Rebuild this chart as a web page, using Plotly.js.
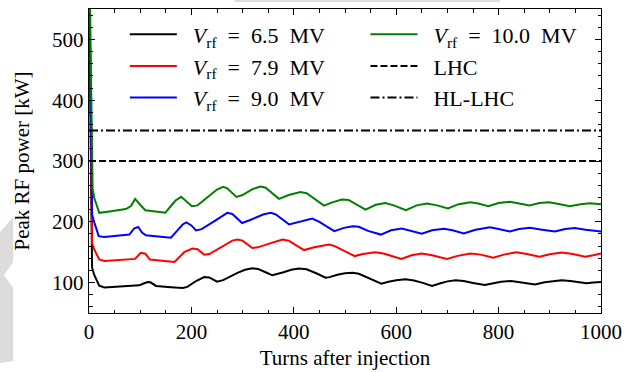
<!DOCTYPE html>
<html>
<head>
<meta charset="utf-8">
<script src="https://cdn.plot.ly/plotly-3.0.1.min.js"></script>
<style>html,body{margin:0;padding:0;background:#fff;}#chart{width:635px;height:372px;}</style>
</head>
<body>
<div id="chart"></div>
<script>
// ---- data ----
const SP = '\u2002';
const seriesNames = ['<i>V</i><sub>rf</sub>' + SP + '=' + SP + '6.5' + SP + 'MV',
                     '<i>V</i><sub>rf</sub>' + SP + '=' + SP + '7.9' + SP + 'MV',
                     '<i>V</i><sub>rf</sub>' + SP + '=' + SP + '9.0' + SP + 'MV',
                     '<i>V</i><sub>rf</sub>' + SP + '=' + SP + '10.0' + SP + 'MV'];
const seriesColors = ['#000000', '#ff0000', '#0000ff', '#008000'];

const turns65 = [0,6,10,20,30,50,80,98,108,115,120,131,160,183,192,210,225,235,250,262,290,305,319,330,345,358,380,395,410,425,445,462,470,485,500,515,527,550,571,585,600,618,635,650,670,685,700,716,732,750,773,790,805,825,845,871,890,905,923,940,955,972,985,1000];
const power65 = [600,125,113,95,92,93,94.5,95.5,99,101,100.5,94.5,92.5,91,93,103,109,108.5,101.5,104,116,121,123.4,122.5,117,112,117,121,123,122,115,108,109,113,115.5,116,114.5,106,98.3,101.5,104,105.4,103.5,100,94.5,98.5,102,103.8,102.5,99.5,96,99,101.5,102.6,100.5,97,100.5,102.5,103.8,102.5,100.5,99,100,101];

const turns79 = [0,6,10,20,30,60,90,101,110,119,140,167,186,202,212,225,235,260,280,290,300,319,330,355,378,390,420,440,460,469,480,519,535,559,575,610,630,650,670,699,720,745,765,790,810,835,855,880,900,923,945,969,985,1000];
const power79 = [620,165,155,138,135.5,137.5,139,149,147.5,138,136,133.8,150,156,155,146,147,160,169,171,169,157,158,165,171,169,153.5,158,162,162.8,160,143.6,147,150,148,139,145,148,145,139,144,148,146,141,146,150,147,142.6,146.5,149.6,147,142.6,145,148];

const turns90 = [0,6,10,19,30,60,79,88,96,104,111,140,160,175,183,190,200,209,220,245,260,270,280,299,315,340,355,365,391,410,436,450,479,498,515,527,545,570,590,611,630,650,670,693,710,732,755,783,800,822,840,861,885,910,930,949,970,1000];
const power90 = [640,212,200,176.4,175,178,179,189,191.5,182,178,175.5,173.8,188,195.6,199,194,185.7,188,201,210,214.7,213,198,203,212,214.7,212,195.6,200,205.4,200,184.6,190,192.5,191.8,185,179,186,189,185,180.3,186,188.5,186,181,187,191,188,184,188,190,187,184,188,189.6,187,184];

const turns100 = [0,7,10,20,40,72,82,90,100,110,130,149,160,169,180,190,201,212,230,250,262,270,288,300,320,335,345,371,390,413,425,459,475,494,507,540,560,579,595,619,640,660,680,701,722,745,760,780,800,822,840,860,880,899,920,939,960,978,1000];
const power100 = [680,255,240,214.8,217,221,226,237.7,228,219,217,214.8,226,235,241,233,225.6,227,240,253,257.4,255,241,244,254,258,256,237.7,244,249,247,226.7,232,236.5,236,220,228,231,227,219,227,230,227,221.8,229,232,230,225.6,231,232.8,230,226.7,231,232,229,225.6,229,230.5,229];

const limitNames = ['LHC', 'HL-LHC'];
const limitValues = [300, 350];
const limitTurns = [0, 1000];

const xTickVals = [0, 200, 400, 600, 800, 1000];
const yTickVals = [100, 200, 300, 400, 500];

// ---- traces ----
const GAP = '\u2002';
const turnSets = [turns65, turns79, turns90, turns100];
const powerSets = [power65, power79, power90, power100];
const traces = [];
for (let i = 0; i < 4; i++) {
  traces.push({
    x: turnSets[i], y: powerSets[i], type: 'scatter', mode: 'lines',
    name: GAP + seriesNames[i], line: {color: seriesColors[i], width: 2},
    legend: i < 3 ? 'legend' : 'legend2', legendgroup: 'g' + i,
    hoverinfo: 'skip'
  });
}
const limitDash = ['7px,3px', '9px,3px,2px,3px'];
for (let j = 0; j < 2; j++) {
  traces.push({
    x: limitTurns, y: [limitValues[j], limitValues[j]], type: 'scatter', mode: 'lines',
    name: GAP + limitNames[j], line: {color: '#000000', width: 2, dash: limitDash[j]},
    legend: 'legend2', legendgroup: 'h' + j, hoverinfo: 'skip'
  });
}

const FONT = "'Liberation Serif', 'DejaVu Serif', serif";
const axisCommon = {
  showline: true, linecolor: '#000', linewidth: 1.2, mirror: 'allticks',
  ticks: 'inside', ticklen: 6, tickwidth: 1, tickcolor: '#000',
  showgrid: false, zeroline: false,
  tickfont: {family: FONT, size: 21, color: '#000'}
};

const legendCommon = {
  bgcolor: 'rgba(0,0,0,0)', borderwidth: 0,
  font: {family: FONT, size: 22, color: '#000'},
  xanchor: 'left', yanchor: 'top', tracegroupgap: 0, itemwidth: 47
};

const layout = {
  width: 635, height: 372,
  margin: {l: 89, r: 34, t: 9, b: 59},
  paper_bgcolor: '#fff', plot_bgcolor: '#fff',
  showlegend: true,
  xaxis: Object.assign({}, axisCommon, {
    range: [0, 1000], tickvals: xTickVals,
    minor: {dtick: 50, tick0: 0, ticks: 'inside', ticklen: 3.5, tickwidth: 1, tickcolor: '#000'},
    title: {text: 'Turns after injection', font: {family: FONT, size: 21, color: '#000'}, standoff: 6}
  }),
  yaxis: Object.assign({}, axisCommon, {
    range: [50, 550], tickvals: yTickVals,
    minor: {dtick: 20, tick0: 0, ticks: 'inside', ticklen: 3.5, tickwidth: 1, tickcolor: '#000'},
    title: {text: 'Peak RF power [kW]', font: {family: FONT, size: 21, color: '#000'}, standoff: 16}
  }),
  legend: Object.assign({}, legendCommon, {x: 0.07, y: 0.985}),
  legend2: Object.assign({}, legendCommon, {x: 0.54, y: 0.985}),
  shapes: [
    {type: 'path', xref: 'paper', yref: 'paper', layer: 'below', line: {width: 0}, fillcolor: '#dcdcdc',
     path: 'M -0.1738 0.2664 L -0.148 0.3158 L -0.148 0.1678 L -0.166 0.1250 L -0.148 0.0822 L -0.148 -0.1579 L -0.1738 -0.1645 Z'},
    {type: 'rect', xref: 'paper', yref: 'paper', layer: 'below', line: {width: 0}, fillcolor: '#dcdcdc',
     x0: 0.285, x1: 0.803, y0: 1.0230, y1: 1.0296}
  ]
};

Plotly.newPlot('chart', traces, layout, {staticPlot: true});
</script>
</body>
</html>
